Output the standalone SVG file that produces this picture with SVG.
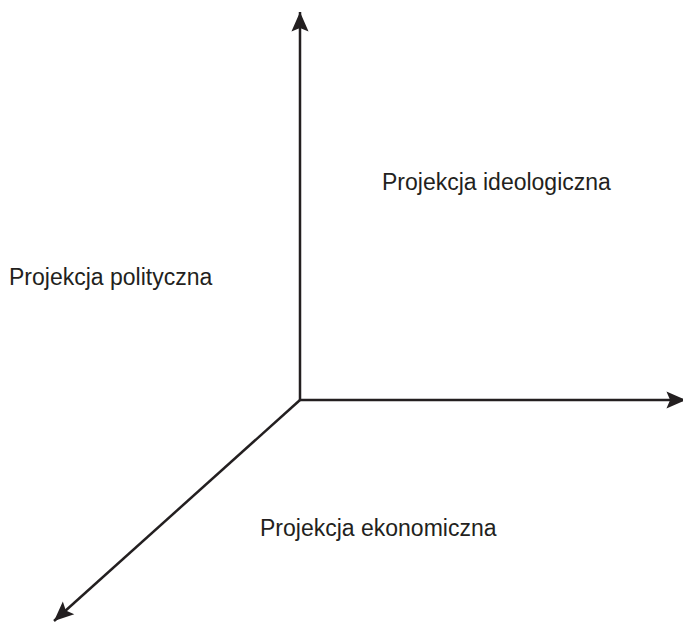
<svg xmlns="http://www.w3.org/2000/svg" width="683" height="623" viewBox="0 0 683 623">
<style>
.axis{stroke:#231f20;stroke-width:2.5;fill:none;marker-end:url(#ah)}
.lbl{font-family:"Liberation Sans",Arial,sans-serif;font-size:23px;fill:#231f20}
</style>
<defs>
<marker id="ah" markerUnits="userSpaceOnUse" markerWidth="22" markerHeight="22" viewBox="-17 -9 18 18" refX="0" refY="0" orient="auto">
<path d="M0,0 L-16,-7 L-13,0 L-16,7 Z" fill="#231f20"/>
</marker>
</defs>
<rect width="683" height="623" fill="#fff"/>
<g id="connectors">
<line class="axis" x1="300" y1="400" x2="300" y2="12"/>
<line class="axis" x1="299" y1="400" x2="686" y2="400"/>
<line class="axis" x1="300" y1="400" x2="54" y2="621"/>
</g>
<g id="ideologiczna"><text class="lbl" x="382" y="190">Projekcja ideologiczna</text></g>
<g id="polityczna"><text class="lbl" x="9" y="285">Projekcja polityczna</text></g>
<g id="ekonomiczna"><text class="lbl" x="260" y="536">Projekcja ekonomiczna</text></g>
</svg>
